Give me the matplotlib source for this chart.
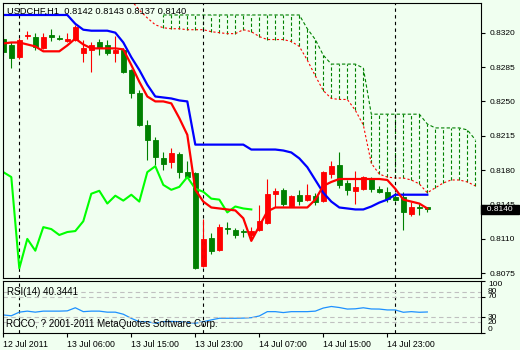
import matplotlib.pyplot as plt
import matplotlib.transforms as mtransforms
import numpy as np

plt.rcParams['font.family'] = ['Liberation Sans', 'DejaVu Sans']

# USDCHF H1, barras de 12 Jul 22:00 ate 15 Jul 04:00
opens = [0.8314, 0.8307, 0.8295, 0.8317, 0.8316, 0.8304, 0.8318, 0.8315, 0.8312, 0.8313,
         0.8299, 0.8302, 0.8310, 0.8307, 0.8299, 0.8302, 0.8282, 0.8259, 0.8226, 0.8211,
         0.8192, 0.8188, 0.8196, 0.8178, 0.8177, 0.8082, 0.8111, 0.8099, 0.8121, 0.8119,
         0.8118, 0.8114, 0.8119, 0.8126, 0.8156, 0.8160, 0.8144, 0.8155, 0.8150, 0.8154,
         0.8149, 0.8176, 0.8185, 0.8167, 0.8159, 0.8161, 0.8171, 0.8161, 0.8158, 0.8153,
         0.8153, 0.8135, 0.8142, 0.8142]
highs = [0.8316, 0.8310, 0.8315, 0.8322, 0.8320, 0.8320, 0.8324, 0.8318, 0.8320, 0.8328,
         0.8313, 0.8310, 0.8314, 0.8313, 0.8317, 0.8304, 0.8283, 0.8262, 0.8231, 0.8214,
         0.8199, 0.8203, 0.8199, 0.8189, 0.8178, 0.8130, 0.8116, 0.8125, 0.8127, 0.8121,
         0.8120, 0.8122, 0.8145, 0.8171, 0.8162, 0.8162, 0.8155, 0.8160, 0.8166, 0.8157,
         0.8179, 0.8189, 0.8198, 0.8170, 0.8179, 0.8174, 0.8173, 0.8164, 0.8163, 0.8158,
         0.8158, 0.8148, 0.8146, 0.8143]
lows = [0.8296, 0.8284, 0.8293, 0.8314, 0.8302, 0.8303, 0.8312, 0.8313, 0.8310, 0.8312,
        0.8290, 0.8280, 0.8297, 0.8297, 0.8290, 0.8279, 0.8253, 0.8225, 0.8190, 0.8185,
        0.8180, 0.8182, 0.8172, 0.8172, 0.8079, 0.8081, 0.8095, 0.8098, 0.8115, 0.8111,
        0.8112, 0.8109, 0.8118, 0.8125, 0.8143, 0.8144, 0.8143, 0.8145, 0.8149, 0.8145,
        0.8148, 0.8172, 0.8162, 0.8155, 0.8146, 0.8160, 0.8158, 0.8157, 0.8148, 0.8149,
        0.8119, 0.8133, 0.8134, 0.8137]
closes = [0.8300, 0.8294, 0.8313, 0.8318, 0.8305, 0.8316, 0.8316, 0.8314, 0.8314, 0.8326,
          0.8304, 0.8307, 0.8304, 0.8299, 0.8302, 0.8280, 0.8259, 0.8226, 0.8211, 0.8193,
          0.8186, 0.8197, 0.8178, 0.8173, 0.8080, 0.8110, 0.8098, 0.8122, 0.8120, 0.8114,
          0.8117, 0.8118, 0.8128, 0.8156, 0.8159, 0.8146, 0.8154, 0.8149, 0.8155, 0.8148,
          0.8178, 0.8184, 0.8165, 0.8160, 0.8163, 0.8173, 0.8161, 0.8158, 0.8151, 0.8150,
          0.8137, 0.8143, 0.8141, 0.8140]

# Ichimoku
tenkan = [0.8309, 0.8310, 0.8310, 0.8308, 0.8306, 0.8301, 0.8301, 0.8301, 0.8307, 0.8314,
          0.8308, 0.8304, 0.8304, 0.8304, 0.8304, 0.8303, 0.8287, 0.8270, 0.8255, 0.8250,
          0.8250, 0.8248, 0.8233, 0.8216, 0.8160, 0.8148, 0.8142, 0.8141, 0.8140, 0.8139,
          0.8131, 0.8108, 0.8123, 0.8138, 0.8142, 0.8142, 0.8142, 0.8142, 0.8142, 0.8150,
          0.8164, 0.8168, 0.8171, 0.8171, 0.8171, 0.8171, 0.8171, 0.8171, 0.8170, 0.8161,
          0.8150, 0.8148, 0.8146, 0.8141]
kijun = [0.8338, 0.8338, 0.8338, 0.8338, 0.8338, 0.8338, 0.8338, 0.8338, 0.8338, 0.8329,
         0.8323, 0.8322, 0.8322, 0.8322, 0.8320, 0.8310, 0.8295, 0.8282, 0.8267, 0.8255,
         0.8254, 0.8253, 0.8251, 0.8250, 0.8206, 0.8206, 0.8206, 0.8206, 0.8206, 0.8206,
         0.8206, 0.8201, 0.8201, 0.8201, 0.8201, 0.8200, 0.8198, 0.8192, 0.8183, 0.8170,
         0.8157, 0.8148, 0.8142, 0.8141, 0.8140, 0.8140, 0.8143, 0.8147, 0.8150, 0.8155,
         0.8155, 0.8155, 0.8155, 0.8155]
senkou_a_start = 16
senkou_a = [0.8353, 0.8343, 0.8335, 0.8328, 0.8325, 0.8324, 0.8324, 0.8323, 0.8323, 0.8323,
            0.8321, 0.8320, 0.8319, 0.8319, 0.8323, 0.8321, 0.8316, 0.8313, 0.8313, 0.8313,
            0.8311, 0.8306, 0.8292, 0.8276, 0.8261, 0.8253, 0.8252, 0.8252, 0.8241, 0.8226,
            0.8187, 0.8176, 0.8173, 0.8172, 0.8172, 0.8170, 0.8166, 0.8157, 0.8162, 0.8167,
            0.8170, 0.8170, 0.8168, 0.8164]
senkou_b_start = 20
senkou_b = [0.8338, 0.8338, 0.8338, 0.8338, 0.8338, 0.8338, 0.8338, 0.8338, 0.8338, 0.8338,
            0.8338, 0.8338, 0.8338, 0.8338, 0.8338, 0.8338, 0.8338, 0.8338, 0.8324, 0.8313,
            0.8297, 0.8288, 0.8288, 0.8288, 0.8288, 0.8284, 0.8237, 0.8237, 0.8237, 0.8237,
            0.8237, 0.8237, 0.8237, 0.8227, 0.8223, 0.8223, 0.8223, 0.8223, 0.8221, 0.8211]
chikou_shift = 22

rsi = [34.6, 33.0, 40.0, 42.0, 40.0, 42.0, 42.0, 42.0, 42.5, 48.5,
       41.0, 42.0, 42.0, 40.0, 40.0, 36.0, 28.0, 21.5, 21.5, 18.5,
       21.5, 22.0, 21.5, 20.0, 18.5, 21.5, 25.0, 28.2, 28.2, 28.2,
       28.5, 29.3, 32.6, 41.0, 41.0, 39.2, 41.0, 41.0, 41.0, 42.0,
       48.0, 51.0, 49.0, 46.0, 46.5, 48.5, 46.2, 46.0, 44.3, 44.3,
       39.8, 41.0, 39.8, 40.3441]
rsi_levels = [80, 70, 30, 20]
rsi_labels = ['100', '80', '70', '30', '20', '0']

day_breaks = [2, 25, 49]
time_ticks = [0, 8, 16, 24, 32, 40, 48]
time_labels = ['12 Jul 2011', '13 Jul 06:00', '13 Jul 15:00', '13 Jul 23:00',
               '14 Jul 07:00', '14 Jul 15:00', '14 Jul 23:00']
price_ticks = [0.8075, 0.8110, 0.8145, 0.8180, 0.8215, 0.8250, 0.8285, 0.8320]

bg = '#F0FFF0'
bull = '#FF0000'
bear = '#008000'

n = len(closes)
x = np.arange(n)
o, h, l, c = map(np.array, (opens, highs, lows, closes))

fig = plt.figure(figsize=(5.2, 3.5), dpi=100, facecolor=bg)
ax = fig.add_axes([3/520, 72/350, 478/520, 275/350], facecolor=bg)
ax2 = fig.add_axes([3/520, 17.2/350, 478/520, 51.6/350], facecolor=bg)

# nuvem
sa = np.array(senkou_a)
sb = np.array(senkou_b)
xa = np.arange(senkou_a_start, senkou_a_start + len(sa))
xb = np.arange(senkou_b_start, senkou_b_start + len(sb))
ax.vlines(xb, sa[senkou_b_start - senkou_a_start:], sb, colors=bear, lw=0.8,
          linestyles=(0, (3, 2)))
ax.plot(xb, sb, color=bear, lw=0.8, ls=(0, (3, 2)))
ax.plot(xa, sa, color=bull, lw=0.8, ls=(0, (2, 2)))

# separadores de dia
for d in day_breaks:
    ax.axvline(d, color='black', lw=0.8, ls=(0, (3, 3)))
    ax2.axvline(d, color='black', lw=0.8, ls=(0, (3, 3)))

# candles (vermelho = alta, verde = baixa)
cores = np.where(c >= o, bull, bear)
ax.vlines(x, l, h, colors=cores, lw=0.8)
ax.bar(x, np.abs(c - o), bottom=np.minimum(o, c), width=0.6,
       color=cores, edgecolor=cores, linewidth=0.6)

# linhas
ax.plot(x[:n - chikou_shift], c[chikou_shift:], color='#00FF00', lw=1.5)
ax.plot(x, kijun, color='#0000FF', lw=1.6)
ax.plot(x, tenkan, color=bull, lw=1.6)

ax.set_xlim(-0.0375, 59.71)
ax.set_ylim(0.80702, 0.83502)
ax.set_xticks([])
ax.yaxis.tick_right()
ax.set_yticks(price_ticks)
ax.set_yticklabels([f'{p:.4f}' for p in price_ticks], fontsize=6)
ax.tick_params(axis='y', length=3, width=0.8, pad=3)

tr = mtransforms.blended_transform_factory(ax.transAxes, ax.transData)
ax.text(1.0 + 1.5/478, c[-1], f'  {c[-1]:.4f}  ', transform=tr, fontsize=6,
        color='white', va='center', ha='left',
        bbox=dict(boxstyle='square,pad=0.15', fc='black', ec='black'))

ax.text(3.7/478, (278 - 14)/275,
        f'USDCHF,H1  {o[-1]:.4f} {h[-1]:.4f} {l[-1]:.4f} {c[-1]:.4f}',
        transform=ax.transAxes, fontsize=6.7, va='baseline', ha='left')

# RSI
ax2.plot(x, rsi, color='#1E90FF', lw=0.9)
for lv in rsi_levels:
    ax2.axhline(lv, color='#C0C0C0', lw=0.8, ls=(0, (4, 3)))
ax2.set_xlim(-0.0375, 59.71)
ax2.set_ylim(0, 100)
ax2.yaxis.tick_right()
ax2.set_yticks([100, 70, 30, 0])
ax2.set_yticklabels([])
ax2.tick_params(axis='y', length=3, width=0.8)
tr2 = mtransforms.blended_transform_factory(ax2.transAxes, ax2.transData)
for lab, val in zip(rsi_labels, [100, 80, 70, 30, 20, 0]):
    va = 'top' if val == 100 else ('bottom' if val == 0 else 'center')
    ax2.text(1.0 + 7/478, val, lab, transform=tr2, fontsize=6, va=va, ha='left')

ax2.text(4.3/478, 0.742, f'RSI(14) {rsi[-1]:.4f}', transform=ax2.transAxes,
         fontsize=7, va='baseline', ha='left')
ax2.text(3/478, 0.112, 'ROCO, ? 2001-2011 MetaQuotes Software Corp.',
         transform=ax2.transAxes, fontsize=7, va='baseline', ha='left')

ax2.set_xticks(time_ticks)
ax2.set_xticklabels(time_labels, fontsize=6.3, ha='left')
ax2.tick_params(axis='x', length=3, width=0.8, pad=2)

for a in (ax, ax2):
    for s in a.spines.values():
        s.set_color('black')
        s.set_linewidth(0.8)

fig.savefig('out.png', dpi=100, facecolor=bg)
